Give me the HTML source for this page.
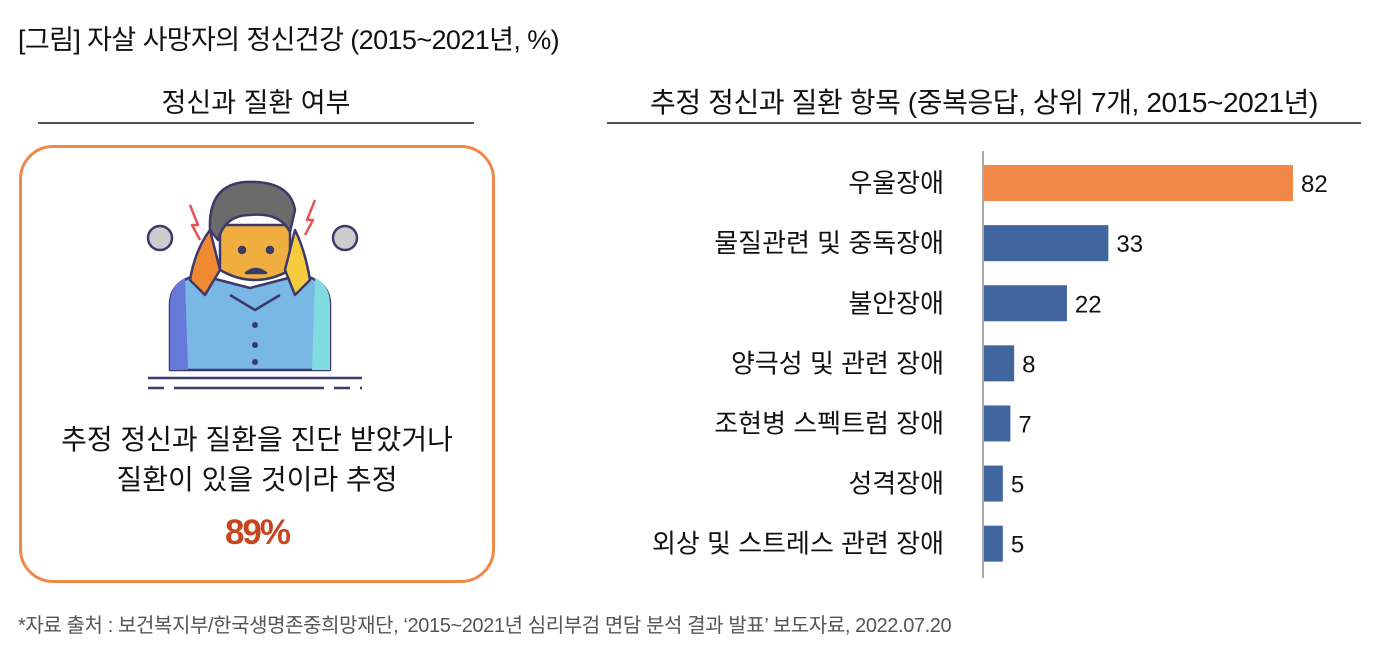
<!DOCTYPE html>
<html><head><meta charset="utf-8">
<style>
body{margin:0;width:1384px;height:660px;background:#fff;font-family:"Liberation Sans","Noto Sans CJK KR",sans-serif;position:relative;overflow:hidden;color:#111}
.abs{position:absolute}
</style></head><body>
<div class="abs" style="left:18px;top:18px;font-size:27px;letter-spacing:-0.6px">[그림] 자살 사망자의 정신건강 (2015~2021년, %)</div>
<div class="abs" style="left:38px;top:81px;width:436px;text-align:center;font-size:27px">정신과 질환 여부</div>
<div class="abs" style="left:38px;top:122px;width:436px;height:2px;background:#555"></div>
<div class="abs" style="left:607px;top:81px;width:754px;text-align:center;font-size:28px;letter-spacing:-0.4px">추정 정신과 질환 항목 (중복응답, 상위 7개, 2015~2021년)</div>
<div class="abs" style="left:607px;top:122px;width:754px;height:2px;background:#555"></div>
<div class="abs" style="left:19px;top:145px;width:470px;height:432px;border:3px solid #f0884a;border-radius:34px"></div>
<svg class="abs" style="left:130px;top:170px" width="240" height="220" viewBox="0 0 240 220">
<g stroke="#3d3a6b" stroke-width="2.5" stroke-linejoin="round">
<path d="M40 200 L40 135 Q40 110 70 105 L120 118 L170 105 Q200 110 200 135 L200 200 Z" fill="#79b8e4"/>
<path d="M40 200 L40 135 Q40 115 55 108 L58 200Z" fill="#6678d8" stroke="none"/>
<path d="M200 200 L200 135 Q200 115 185 108 L182 200Z" fill="#7fdde0" stroke="none"/>
<path d="M90 55 L90 100 Q125 120 160 100 L160 55 Z" fill="#efae3f"/>
<path d="M80 60 Q78 15 115 12 Q160 10 165 40 L160 62 Q150 42 120 45 Q95 45 88 70Z" fill="#6b6b6b"/>
<path d="M60 110 Q65 80 80 60 L90 100 L75 125Z" fill="#ef8a33"/>
<path d="M180 110 Q175 80 165 60 L155 100 L165 125Z" fill="#f5cc3e"/>
<circle cx="112" cy="80" r="3" fill="#3d3a6b"/><circle cx="140" cy="80" r="3" fill="#3d3a6b"/>
<path d="M116 103 Q126 95 136 103Z" fill="#3d3a6b"/>
<path d="M100 125 L125 140 L150 125" fill="#79b8e4"/>
<path d="M60 35 L68 55 L62 55 L70 70" fill="none" stroke="#e4545a"/>
<path d="M185 30 L177 50 L183 50 L175 65" fill="none" stroke="#e4545a"/>
<circle cx="30" cy="68" r="12" fill="#ccc"/><circle cx="215" cy="68" r="12" fill="#ccc"/>
</g>
<circle cx="125" cy="155" r="3" fill="#3d3a6b"/><circle cx="125" cy="175" r="3" fill="#3d3a6b"/><circle cx="125" cy="192" r="3" fill="#3d3a6b"/>
<line x1="18" y1="208" x2="232" y2="208" stroke="#3d3a6b" stroke-width="2.5"/>
<line x1="18" y1="218" x2="232" y2="218" stroke="#3d3a6b" stroke-width="2.5" stroke-dasharray="16 10 150 10"/>
</svg>
<div class="abs" style="left:22px;top:420px;width:470px;text-align:center;font-size:28px;line-height:40px">추정 정신과 질환을 진단 받았거나<br>질환이 있을 것이라 추정</div>
<div class="abs" style="left:22px;top:513px;width:470px;text-align:center;font-size:35px;font-weight:bold;color:#c8461f;letter-spacing:-2px">89%</div>
<svg class="abs" id="chart" style="left:0;top:0" width="1384" height="660"></svg>
<div class="abs" style="left:18px;top:609px;font-size:20px;color:#555;letter-spacing:-0.4px">*자료 출처 : 보건복지부/한국생명존중희망재단, ‘2015~2021년 심리부검 면담 분석 결과 발표’ 보도자료, 2022.07.20</div>
<script>
const categories=["우울장애","물질관련 및 중독장애","불안장애","양극성 및 관련 장애","조현병 스펙트럼 장애","성격장애","외상 및 스트레스 관련 장애"];
const values=[82,33,22,8,7,5,5];
const svg=document.getElementById('chart');
const NS='http://www.w3.org/2000/svg';
const x0=984, unit=309/82, yTop=153, step=60.1, bh=36;
const xs=v=>x0+v*unit;
const ys=i=>yTop+i*step+(step-bh)/2;
const ax=document.createElementNS(NS,'line');


ax.setAttribute('x1',983);ax.setAttribute('x2',983);ax.setAttribute('y1',151);ax.setAttribute('y2',578);
ax.setAttribute('stroke','#aaa');ax.setAttribute('stroke-width',2);svg.appendChild(ax);
categories.forEach((c,i)=>{
 const r=document.createElementNS(NS,'rect');
 
 
 r.setAttribute('x',x0);r.setAttribute('y',ys(i));r.setAttribute('width',xs(values[i])-x0);r.setAttribute('height',bh);
 r.setAttribute('fill',i===0?'#f08847':'#41659f');svg.appendChild(r);
 const t=document.createElementNS(NS,'text');
 
 
 t.setAttribute('x',944);t.setAttribute('y',ys(i)+bh/2+9);t.setAttribute('text-anchor','end');
 t.setAttribute('font-size','26');t.setAttribute('fill','#111');t.textContent=c;svg.appendChild(t);
 const v=document.createElementNS(NS,'text');
 
 
 v.setAttribute('x',xs(values[i])+8);v.setAttribute('y',ys(i)+bh/2+9);
 v.setAttribute('font-size','24');v.setAttribute('fill','#111');v.textContent=values[i];svg.appendChild(v);
});
</script>
</body></html>
